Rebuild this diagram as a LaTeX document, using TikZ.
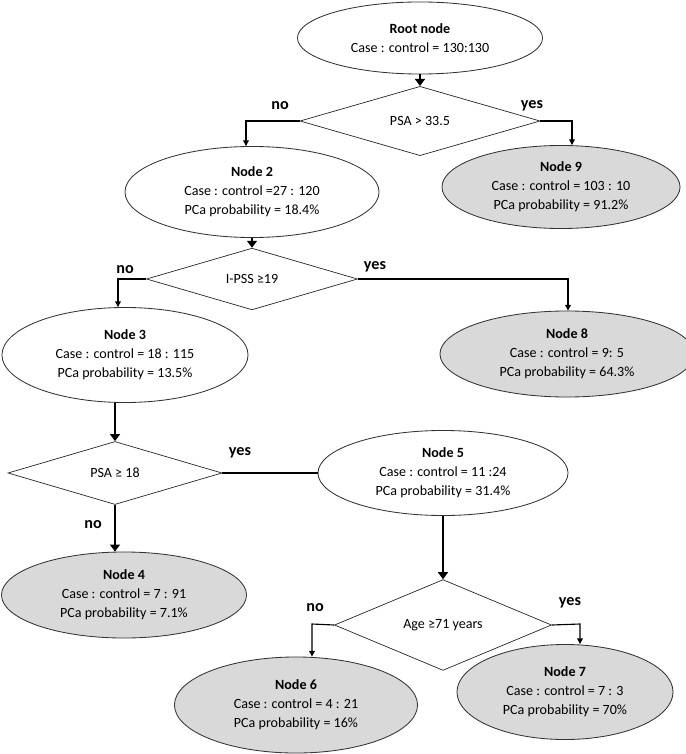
\documentclass[tikz,border=0pt]{standalone}
\usepackage{fontspec}
\setmainfont{Carlito}
\usepackage{tikz}
\usetikzlibrary{shapes.geometric,arrows.meta}

\begin{document}
\begin{tikzpicture}[x=0.025cm,y=-0.025cm,
  every node/.style={font=\fontsize{10}{13.5}\selectfont},
  split/.style={ellipse,draw=black!80,line width=0.6pt,align=center,inner sep=0pt},
  leaf/.style={split,fill=black!15},
  test/.style={diamond,draw=black!85,line width=0.5pt,inner sep=0pt},
  answer/.style={font=\fontsize{11.5}{13}\selectfont\bfseries},
  link/.style={line width=0.8pt,-{Triangle[length=4pt,width=4pt]}},
  flow/.style={line width=2pt,-{Triangle[length=5pt,width=7pt]}}
]

\useasboundingbox (0,0) rectangle (685,754);

\node[split,minimum width=6.125cm,minimum height=1.8cm] (root) at (420,38)
  {\textbf{Root node}\\Case : control = 130:130};
\node[test,minimum width=6cm,minimum height=1.25cm] (d1) at (420,121) {PSA > 33.5};

\node[split,minimum width=6.35cm,minimum height=2.275cm] (n2) at (252,192)
  {\textbf{Node 2}\\Case : control =27 : 120\\PCa probability = 18.4\%};
\node[leaf,minimum width=5.95cm,minimum height=2.075cm] (n9) at (561,187)
  {\textbf{Node 9}\\Case : control = 103 : 10\\PCa probability = 91.2\%};

\node[test,minimum width=5.275cm,minimum height=1.1cm] (d2) at (252,279) {I-PSS ≥19};

\node[split,minimum width=6.15cm,minimum height=2.375cm] (n3) at (125,355)
  {\textbf{Node 3}\\Case : control = 18 : 115\\PCa probability = 13.5\%};
\node[leaf,minimum width=6.35cm,minimum height=2.15cm] (n8) at (567,354)
  {\textbf{Node 8}\\Case : control = 9: 5\\PCa probability = 64.3\%};

\node[test,minimum width=5.35cm,minimum height=1.575cm] (d3) at (115,473) {PSA ≥ 18};
\node[split,minimum width=6.25cm,minimum height=2.125cm] (n5) at (443,473)
  {\textbf{Node 5}\\Case : control = 11 :24\\PCa probability = 31.4\%};

\node[leaf,minimum width=6.125cm,minimum height=2.15cm] (n4) at (124,595)
  {\textbf{Node 4}\\Case : control = 7 : 91\\PCa probability = 7.1\%};

\node[test,minimum width=5.425cm,minimum height=1.6cm] (d4) at (443,625) {Age ≥71 years};

\node[leaf,minimum width=6.075cm,minimum height=2.4cm] (n6) at (296,705)
  {\textbf{Node 6}\\Case : control = 4 : 21\\PCa probability = 16\%};
\node[leaf,minimum width=5.4cm,minimum height=2.375cm] (n7) at (565,692)
  {\textbf{Node 7}\\Case : control = 7 : 3\\PCa probability = 70\%};

\coordinate (no1) at (246,121);
\coordinate (yes1) at (572,121);
\coordinate (no2) at (118,279);
\coordinate (yes2) at (568,279);
\coordinate (no4) at (312,624);
\coordinate (yes4) at (580,624);

\draw[flow] (root.south) -- (d1.north);
\draw[link] (d1.west) -- (no1) -- (no1 |- n2.north);
\draw[link] (d1.east) -- (yes1) -- (yes1 |- n9.north);

\draw[flow] (n2.south) -- (d2.north);
\draw[link] (d2.west) -- (no2) -- (no2 |- n3.north);
\draw[link] (d2.east) -- (yes2) -- (yes2 |- n8.north);

\draw[flow] (d3.north |- n3.south) -- (d3.north);
\draw[line width=0.8pt] (d3.east) -- (n5.west);
\draw[flow] (d3.south) -- (d3.south |- n4.north);

\draw[flow] (n5.south) -- (d4.north);
\draw[link] (d4.west) -- (no4) -- (no4 |- n6.north);
\draw[link] (d4.east) -- (yes4) -- (yes4 |- n7.north);

\node[answer] (lno1) at (280,106) {no};
\node[answer] (lyes1) at (532,106) {yes};
\node[answer] (lno2) at (125,270) {no};
\node[answer] (lyes2) at (375,267) {yes};
\node[answer] (lyes3) at (240,453) {yes};
\node[answer] (lno3) at (93,525) {no};
\node[answer] (lno4) at (315,608) {no};
\node[answer] (lyes4) at (570,603) {yes};

\end{tikzpicture}
\end{document}
